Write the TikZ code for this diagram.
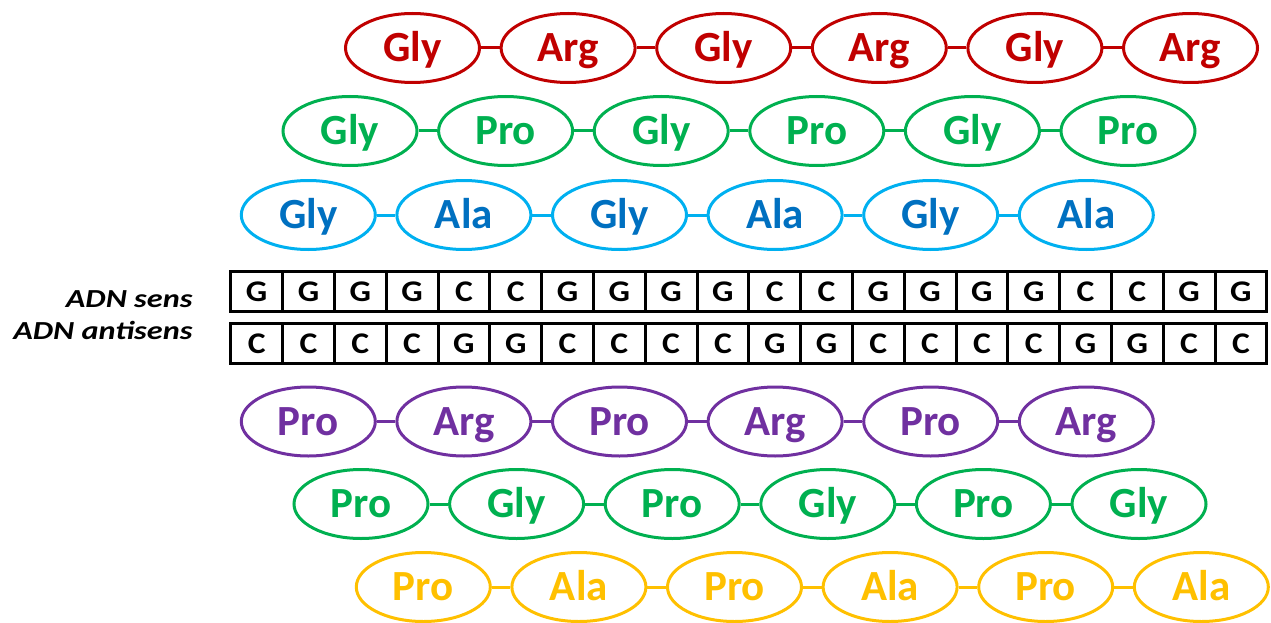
\documentclass[tikz,border=0pt]{standalone}
\usepackage{fontspec}
\setmainfont{Carlito}
\newfontfamily\labfont[FakeStretch=1.24]{Carlito}
\newfontfamily\basefont[FakeStretch=1.12]{Carlito}
\usetikzlibrary{shapes.geometric}
\definecolor{cred}{HTML}{C00000}
\definecolor{cgreen}{HTML}{00B050}
\definecolor{cblueo}{HTML}{00B0F0}
\definecolor{cbluet}{HTML}{0070C0}
\definecolor{cpurple}{HTML}{7030A0}
\definecolor{cyellow}{HTML}{FFC000}
\tikzset{
  amino/.style={ellipse, line width=3pt, minimum width=134pt, minimum height=69pt, inner sep=0pt,
    font=\fontsize{43}{50}\bfseries\selectfont, text height=27pt, text depth=0pt},
  bond/.style={line width=3pt},
  base/.style={rectangle, draw=black, line width=3pt, minimum width=51.8pt, minimum height=40pt, inner sep=0pt,
    font=\basefont\fontsize{30}{36}\bfseries\selectfont, text height=19pt, text depth=0pt},
  strandlabel/.style={anchor=base east, inner sep=0pt, font=\labfont\fontsize{26}{30}\bfseries\itshape\selectfont}
}
\begin{document}
\begin{tikzpicture}[x=1pt,y=-1pt]
\useasboundingbox (0,0) rectangle (1271,623);
\foreach \row/\y/\xo/\oc/\tc/\a/\b in {
  1/48/412.5/cred/cred/Gly/Arg,
  2/131/350/cgreen/cgreen/Gly/Pro,
  3/215/308.3/cblueo/cbluet/Gly/Ala,
  4/421.5/308.3/cpurple/cpurple/Pro/Arg,
  5/504/361/cgreen/cgreen/Pro/Gly,
  6/587/423.3/cyellow/cyellow/Pro/Ala}{
  \foreach \i in {0,...,5}{
    \pgfmathsetmacro\cx{\xo+\i*155.6}
    \node[amino, draw=\oc, text=\tc] (r\row-\i) at (\cx,\y) {\ifodd\i \b\else \a\fi};
  }
  \foreach \i in {1,...,5}{
    \pgfmathtruncatemacro\j{\i-1}
    \draw[bond, draw=\oc] (r\row-\j.east) -- (r\row-\i.west);
  }
}
\foreach \l [count=\k from 0] in {G,G,G,G,C,C,G,G,G,G,C,C,G,G,G,G,C,C,G,G}{
  \node[base] (s\k) at (256.7+51.8*\k,291.5) {\l};
}
\foreach \l [count=\k from 0] in {C,C,C,C,G,G,C,C,C,C,G,G,C,C,C,C,G,G,C,C}{
  \node[base] (a\k) at (256.7+51.8*\k,343.5) {\l};
}
\node[strandlabel] (lsens) at (192.7,307.3) {ADN sens};
\node[strandlabel] (lanti) at (192.7,339.3) {ADN antisens};
\end{tikzpicture}
\end{document}
